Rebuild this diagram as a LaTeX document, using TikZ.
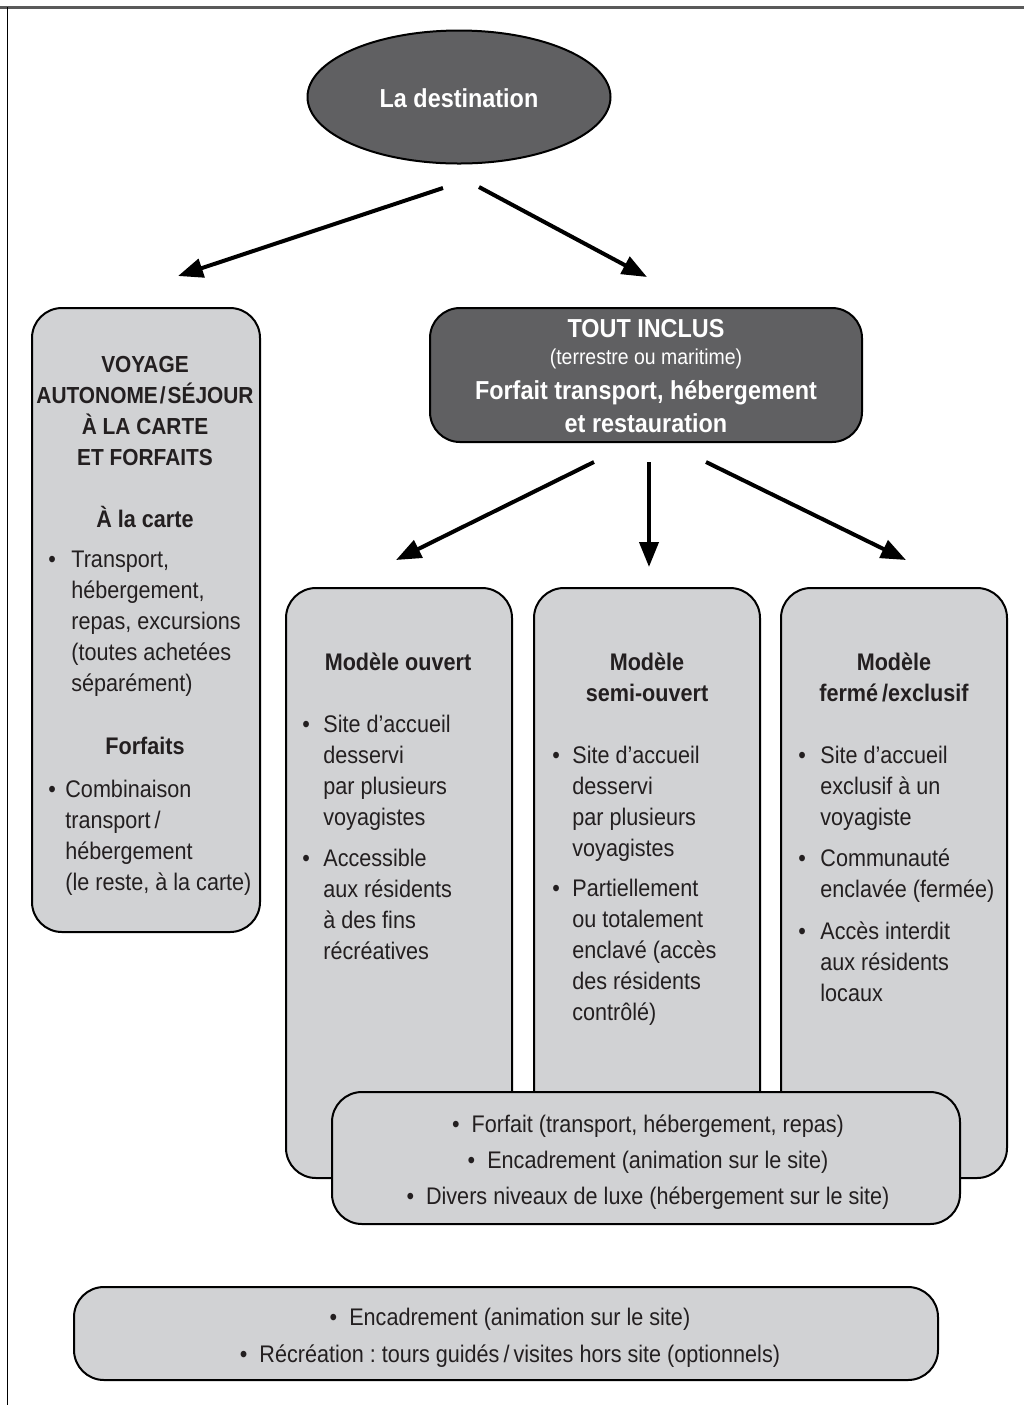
\documentclass[tikz,border=0pt]{standalone}
\usepackage{fontspec}
\setmainfont{Liberation Sans}[FakeStretch=0.9]
\usetikzlibrary{arrows.meta,shapes.geometric}
\definecolor{lightg}{HTML}{D1D2D4}
\definecolor{darkg}{HTML}{606062}
\definecolor{frameg}{HTML}{5A5A5A}
\definecolor{ink}{HTML}{231F20}
\frenchspacing
\newcommand\itm[5]{%
  \node[txt, anchor=base west] (#1b) at (#2,#4) {•};
  \node[txt, anchor=north west, align=left] (#1) at (#3,#4-21.7) {\strut #5};}
\begin{document}
\begin{tikzpicture}[x=0.5pt,y=-0.5pt,
  txt/.style={inner sep=0pt, font=\fontsize{12}{15.5}\selectfont, text=ink},
  hd/.style={inner sep=0pt, font=\fontsize{12}{15.5}\selectfont\bfseries, text=ink},
  wt/.style={inner sep=0pt, font=\fontsize{13}{16.5}\selectfont\bfseries, text=white},
  lbox/.style={draw=black, line width=1pt, fill=lightg, rounded corners=15pt, inner sep=0pt},
  dbox/.style={lbox, fill=darkg},
  arr/.style={line width=2pt, -{Triangle[length=12.5pt,width=9.5pt]}}]
\useasboundingbox (0,0) rectangle (1024,1405);
% frame
\draw[line width=1.3pt, frameg] (0,7.5) -- (1024,7.5);
\draw[line width=0.8pt, black] (7.5,7) -- (7.5,1405);
% ellipse
\node[ellipse, draw=black, line width=1pt, fill=darkg, minimum width=151.5pt, minimum height=66.5pt, inner sep=0pt] (dest) at (459,97) {};
\node[wt, anchor=base] (destt) at (459,107) {La destination};
% arrows from destination
\coordinate (a1s) at (443,188); \coordinate (a1e) at (178,276);
\coordinate (a2s) at (479,187); \coordinate (a2e) at (647,277);
\draw[arr] (a1s) -- (a1e);
\draw[arr] (a2s) -- (a2e);
% left box
\node[lbox, minimum width=114pt, minimum height=312pt] (left) at (146,620) {};
\node[inner sep=0pt, font=\fontsize{11.6}{15.5}\selectfont\bfseries, text=ink, anchor=north, align=center] (lefth) at (145,372-21.7) {\strut VOYAGE\\AUTONOME\kern1pt/\kern1pt SÉJOUR\\À LA CARTE\\ET FORFAITS};
\node[hd, anchor=base] (alc) at (145,527) {À la carte};
\itm{l1}{48}{71}{567}{Transport,\\hébergement,\\repas, excursions\\(toutes achetées\\séparément)}
\node[hd, anchor=base] (forf) at (145,754) {Forfaits};
\itm{l2}{48}{65}{797}{Combinaison\\transport\,/\\hébergement\\(le reste, à la carte)}
% tout inclus
\node[dbox, minimum width=216pt, minimum height=67pt] (tout) at (646,375) {};
\node[wt, anchor=base] (tout1) at (646,337) {TOUT INCLUS};
\node[inner sep=0pt, font=\fontsize{10.8}{12}\selectfont, text=white, anchor=base] (tout2) at (646,364) {(terrestre ou maritime)};
\node[wt, anchor=north, align=center] (tout3) at (646,399-23.1) {\strut Forfait transport, hébergement\\et restauration};
% arrows from tout inclus
\coordinate (b1s) at (594,462); \coordinate (b1e) at (396,560);
\coordinate (b2s) at (649,462); \coordinate (b2e) at (649,567);
\coordinate (b3s) at (706,462); \coordinate (b3e) at (906,560);
\draw[arr] (b1s) -- (b1e);
\draw[arr] (b2s) -- (b2e);
\draw[arr] (b3s) -- (b3e);
% model boxes
\node[lbox, minimum width=113pt, minimum height=295pt] (m1) at (399,883) {};
\node[lbox, minimum width=113pt, minimum height=295pt] (m2) at (647,883) {};
\node[lbox, minimum width=113pt, minimum height=295pt] (m3) at (894,883) {};
\node[hd, anchor=base] (m1h) at (398,670) {Modèle ouvert};
\itm{m1a}{302}{323}{732}{Site d’accueil\\desservi\\par plusieurs\\voyagistes}
\itm{m1b}{302}{323}{866}{Accessible\\aux résidents\\à des fins\\récréatives}
\node[hd, anchor=north, align=center] (m2h) at (647,670-21.7) {\strut Modèle\\semi-ouvert};
\itm{m2a}{552}{572}{763}{Site d’accueil\\desservi\\par plusieurs\\voyagistes}
\itm{m2b}{552}{572}{896}{Partiellement\\ou totalement\\enclavé (accès\\des résidents\\contrôlé)}
\node[hd, anchor=north, align=center] (m3h) at (894,670-21.7) {\strut Modèle\\fermé\,/exclusif};
\itm{m3a}{798}{820}{763}{Site d’accueil\\exclusif à un\\voyagiste}
\itm{m3b}{798}{820}{866}{Communauté\\enclavée (fermée)}
\itm{m3c}{798}{820}{939}{Accès interdit\\aux résidents\\locaux}
% overlay box
\node[lbox, minimum width=314pt, minimum height=66pt] (ov) at (646,1158) {};
\node[txt, anchor=base] (ov1) at (648,1132) {•\hspace{6pt}Forfait (transport, hébergement, repas)};
\node[txt, anchor=base] (ov2) at (648,1168) {•\hspace{6pt}Encadrement (animation sur le site)};
\node[txt, anchor=base] (ov3) at (648,1204) {•\hspace{6pt}Divers niveaux de luxe (hébergement sur le site)};
% bottom box
\node[lbox, minimum width=432pt, minimum height=46.5pt] (bot) at (506,1333.5) {};
\node[txt, anchor=base] (bot1) at (510,1325) {•\hspace{6pt}Encadrement (animation sur le site)};
\node[txt, anchor=base] (bot2) at (510,1362) {•\hspace{6pt}Récréation : tours guidés\,/\,visites hors site (optionnels)};
\end{tikzpicture}
\end{document}
